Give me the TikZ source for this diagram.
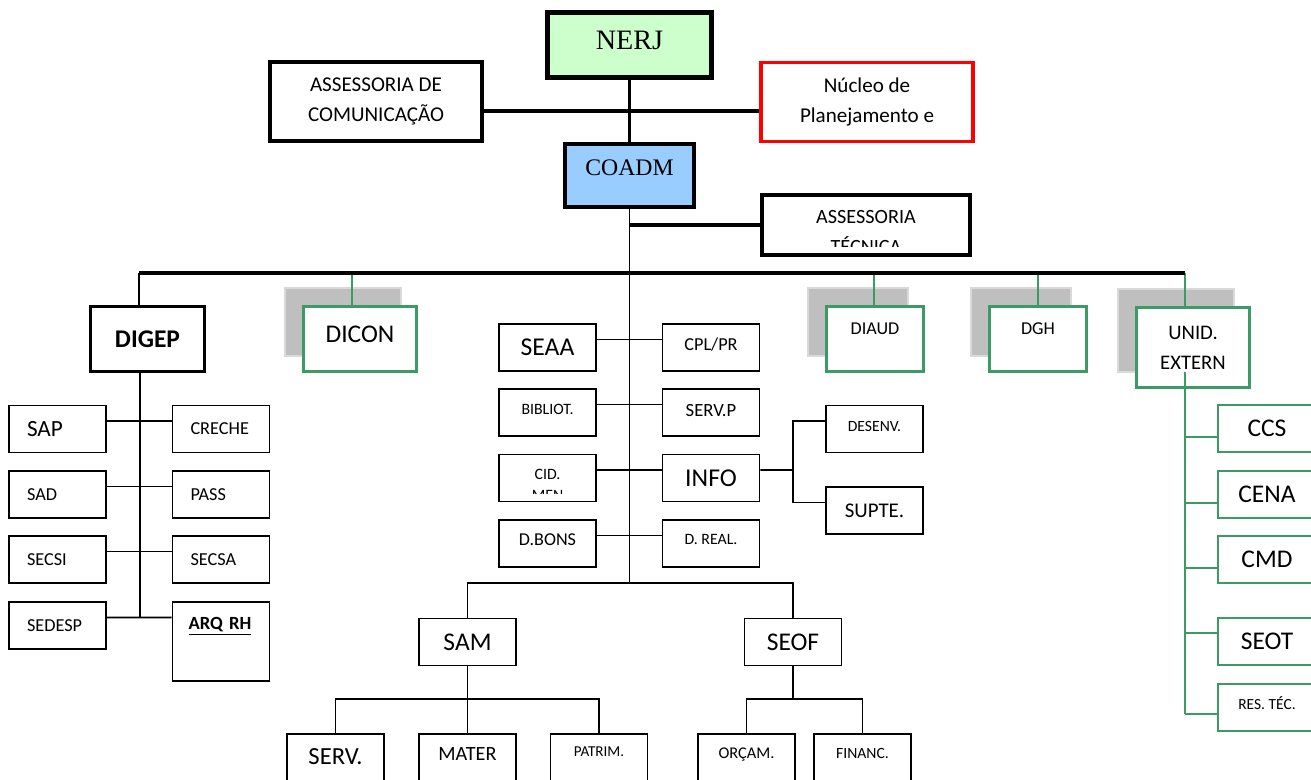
\documentclass[tikz,border=0pt]{standalone}
\usepackage{fontspec}
\setmainfont{Carlito}
\newfontfamily\nerjserif{Liberation Serif}
\definecolor{NerjGreen}{RGB}{204,255,204}
\definecolor{CoadmBlue}{RGB}{153,204,255}
\definecolor{UnitGreen}{RGB}{60,155,100}
\definecolor{ShadowGray}{RGB}{191,191,191}
\definecolor{ShadowEdge}{RGB}{217,217,217}
\usetikzlibrary{positioning,backgrounds}

\begin{document}
\begin{tikzpicture}[x=0.02cm,y=-0.02cm,
    fz/.style={font=\fontsize{#1}{#1}\selectfont},
    lift/.style={text depth=#1},
    sbox/.style={draw,line width=1pt,fill=white,inner sep=0pt,
                 minimum width=19.4mm,minimum height=9.4mm},
    lbox/.style={sbox,text width=12.2mm,align=left},
    topbox/.style={draw,line width=2.2pt,fill=white,inner sep=0pt,align=center,
                   minimum width=42.4mm,minimum height=15.8mm},
    gbox/.style={draw=UnitGreen,line width=1.9pt,fill=white,inner sep=0pt,
                 minimum width=19.3mm,minimum height=12.9mm,align=center},
    gsbox/.style={sbox,draw=UnitGreen,minimum width=19.6mm},
    shbox/.style={fill=ShadowGray,draw=ShadowEdge,line width=0.8pt},
    ln/.style={line width=1pt},
    thk/.style={line width=2.2pt},
    gln/.style={UnitGreen,line width=1pt}]
    \useasboundingbox (0,0) rectangle (1311,780);

    % direction
    \node[draw,line width=2.8pt,fill=NerjGreen,minimum width=32.8mm,minimum height=13mm,
          font=\nerjserif\fontsize{16}{16}\selectfont,lift=2mm] (nerj) at (629.5,45) {NERJ};
    \node[draw,line width=2pt,fill=CoadmBlue,minimum width=25.9mm,minimum height=12.7mm,
          font=\nerjserif\fontsize{13.5}{13.5}\selectfont,lift=3mm] (coadm) at (629.5,175.5) {COADM};
    \node[topbox,font=\fontsize{12}{16.7}\selectfont] (ascom) at (376,101.5) {ASSESSORIA DE\\COMUNICAÇÃO};
    \node[topbox,draw=red,font=\fontsize{12}{16.7}\selectfont] (nucleo) at (867,102) {Núcleo de\\Planejamento e};
    \node[topbox,minimum width=41.6mm,minimum height=12mm] (astec) at (866,225) {};
    \begin{scope}
      \clip (770,197) rectangle (962,247);
      \node[align=center,font=\fontsize{11.5}{17}\selectfont] (astectxt) at (866,232) {ASSESSORIA\\TÉCNICA};
    \end{scope}
    \coordinate (hub) at (629.5,111);
    \coordinate (cend) at (629.5,583);
    \draw[thk] (nerj) -- (coadm);
    \draw[thk] (ascom.east |- hub) -- (nucleo.west |- hub);
    \draw[thk] (coadm.south |- astec.west) -- (astec.west);
    \draw[ln] (coadm.south) -- (cend);

    % directorates
    \coordinate (barL) at (139,273);
    \coordinate (barR) at (1185,273);
    \node[draw,line width=1.9pt,fill=white,minimum width=22.7mm,minimum height=12.9mm,
          font=\fontsize{14.5}{14.5}\selectfont\bfseries] (digep) at (147.5,339) {DIGEP};
    \node[gbox,minimum width=22.5mm,fz=14.5,lift=2mm] (dicon) at (360,339) {DICON};
    \node[gbox,fz=10.3,lift=4mm] (diaud) at (875,339) {DIAUD};
    \node[gbox,fz=10.3,lift=4mm] (dgh) at (1038,339) {DGH};
    \node[gbox,minimum width=22.5mm,minimum height=15.9mm,
          font=\fontsize{11.8}{17}\selectfont] (unid) at (1193,347.5) {UNID.\\EXTERN};
    \begin{scope}[on background layer]
      \foreach \u in {dicon,diaud,dgh,unid}
        \draw[shbox] ([shift={(-17,-17)}]\u.north west) rectangle ([shift={(-17,-17)}]\u.south east);
    \end{scope}
    \foreach \u/\x in {dicon/352,diaud/874,dgh/1038,unid/1185}{
      \coordinate (top-\u) at (\x,273);
      \draw[gln] (top-\u) -- (top-\u |- \u.north);
    }
    \draw[line width=2pt] (barL) -- (barR);
    \draw[ln] (barL) -- (barL |- digep.north);

    % DIGEP
    \node[lbox,fz=13.2] (sap) at (57.5,429) {SAP};
    \node[lbox,fz=10.4] (creche) at (221,429) {CRECHE};
    \node[lbox,fz=10.4] (sad) at (57.5,494.5) {SAD};
    \node[lbox,fz=10.4] (pass) at (221,494.5) {PASS};
    \node[lbox,fz=10.4] (secsi) at (57.5,559.5) {SECSI};
    \node[lbox,fz=10.4] (secsa) at (221,559.5) {SECSA};
    \node[lbox,fz=10.4] (sedesp) at (57.5,625.5) {SEDESP};
    \node[lbox,text width=13mm,minimum height=15.8mm,font=\fontsize{10.6}{10.6}\selectfont\bfseries,
          lift=7.4mm] (arqrh) at (221,641.5) {\underline{ARQ~RH}};
    \coordinate (gend) at (140,617.5);
    \draw[ln] (gend |- digep.south) -- (gend);
    \foreach \a/\b in {sap/creche,sad/pass,secsi/secsa}
      \draw[ln] ([yshift=1.6mm]\a.east) -- ([yshift=1.6mm]\b.west);
    \draw[ln] ([yshift=1.6mm]sedesp.east) -- ([yshift=4.8mm]arqrh.west);

    % COADM sections
    \node[sbox,fz=14.6] (seaa) at (547.5,347.5) {SEAA};
    \node[sbox,fz=10.4,lift=1.4mm] (cpl) at (711,347.5) {CPL/PR};
    \node[sbox,fz=9,lift=1.4mm] (bibliot) at (547.5,412.5) {BIBLIOT.};
    \node[sbox,fz=10.6,lift=1mm] (servp) at (711,412.5) {SERV.P};
    \node[sbox] (cid) at (547.5,478) {};
    \begin{scope}
      \clip (500,455) rectangle (595,493);
      \node[align=center,font=\fontsize{9}{12.2}\selectfont] (cidtxt) at (547.5,485) {CID.\\MEN};
    \end{scope}
    \node[sbox,fz=14.6] (info) at (711,478) {INFO};
    \node[sbox,fz=10.3,lift=1.4mm] (dbons) at (547.5,543.5) {D.BONS};
    \node[sbox,fz=9,lift=1.8mm] (dreal) at (711,543.5) {D. REAL.};
    \foreach \a/\b in {seaa/cpl,bibliot/servp,cid/info,dbons/dreal}
      \draw[ln] ([yshift=1.6mm]\a.east) -- ([yshift=1.6mm]\b.west);

    \node[sbox,fz=8.9,lift=1.2mm] (desenv) at (874.5,429) {DESENV.};
    \node[sbox,fz=11.9] (supte) at (874.5,510.5) {SUPTE.};
    \coordinate (ib) at (793,470);
    \draw[ln] ([yshift=1.6mm]info.east) -- (ib) |- ([yshift=1.6mm]desenv.west);
    \draw[ln] (ib) |- ([yshift=1.6mm]supte.west);

    \node[sbox,fz=14.5] (sam) at (467.5,642) {SAM};
    \node[sbox,fz=14.5] (seof) at (793,642) {SEOF};
    \draw[ln] (sam.north) |- (cend) -| (seof.north);
    \node[sbox,minimum height=13.2mm,fz=14,lift=4mm] (serv) at (335.5,767) {SERV.};
    \node[sbox,minimum height=13.2mm,fz=11.5,lift=5.2mm] (mater) at (467.5,767) {MATER};
    \node[sbox,minimum height=13.2mm,fz=8.6,lift=6mm] (patrim) at (599,767) {PATRIM.};
    \node[sbox,minimum height=13.2mm,fz=9.3,lift=5.6mm] (orcam) at (746.5,767) {ORÇAM.};
    \node[sbox,minimum height=13.2mm,fz=8.9,lift=5.6mm] (financ) at (862.5,767) {FINANC.};
    \coordinate (sj) at (467.5,699);
    \coordinate (oj) at (793,699);
    \draw[ln] (sam.south) -- (sj);
    \draw[ln] (seof.south) -- (oj);
    \foreach \c in {serv,mater,patrim} \draw[ln] (sj) -| (\c.north);
    \foreach \c in {orcam,financ} \draw[ln] (oj) -| (\c.north);

    % external units
    \node[gsbox,fz=14.5] (ccs) at (1267,428.5) {CCS};
    \node[gsbox,fz=14.5] (cena) at (1267,494.5) {CENA};
    \node[gsbox,fz=14.5] (cmd) at (1267,559.5) {CMD};
    \node[gsbox,fz=14.5] (seot) at (1267,641.5) {SEOT};
    \node[gsbox,fz=8.8,lift=1.8mm] (restec) at (1267,707.5) {RES. TÉC.};
    \coordinate (ux) at (1185,372);
    \draw[gln] (ux) -- ([yshift=-1.3mm]restec.west -| ux);
    \foreach \n/\s in {ccs/-1.7mm,cena/-1.7mm,cmd/-1.7mm,seot/1.7mm,restec/-1.3mm}
      \draw[gln] ([yshift=\s]\n.west -| ux) -- ([yshift=\s]\n.west);
\end{tikzpicture}
\end{document}
